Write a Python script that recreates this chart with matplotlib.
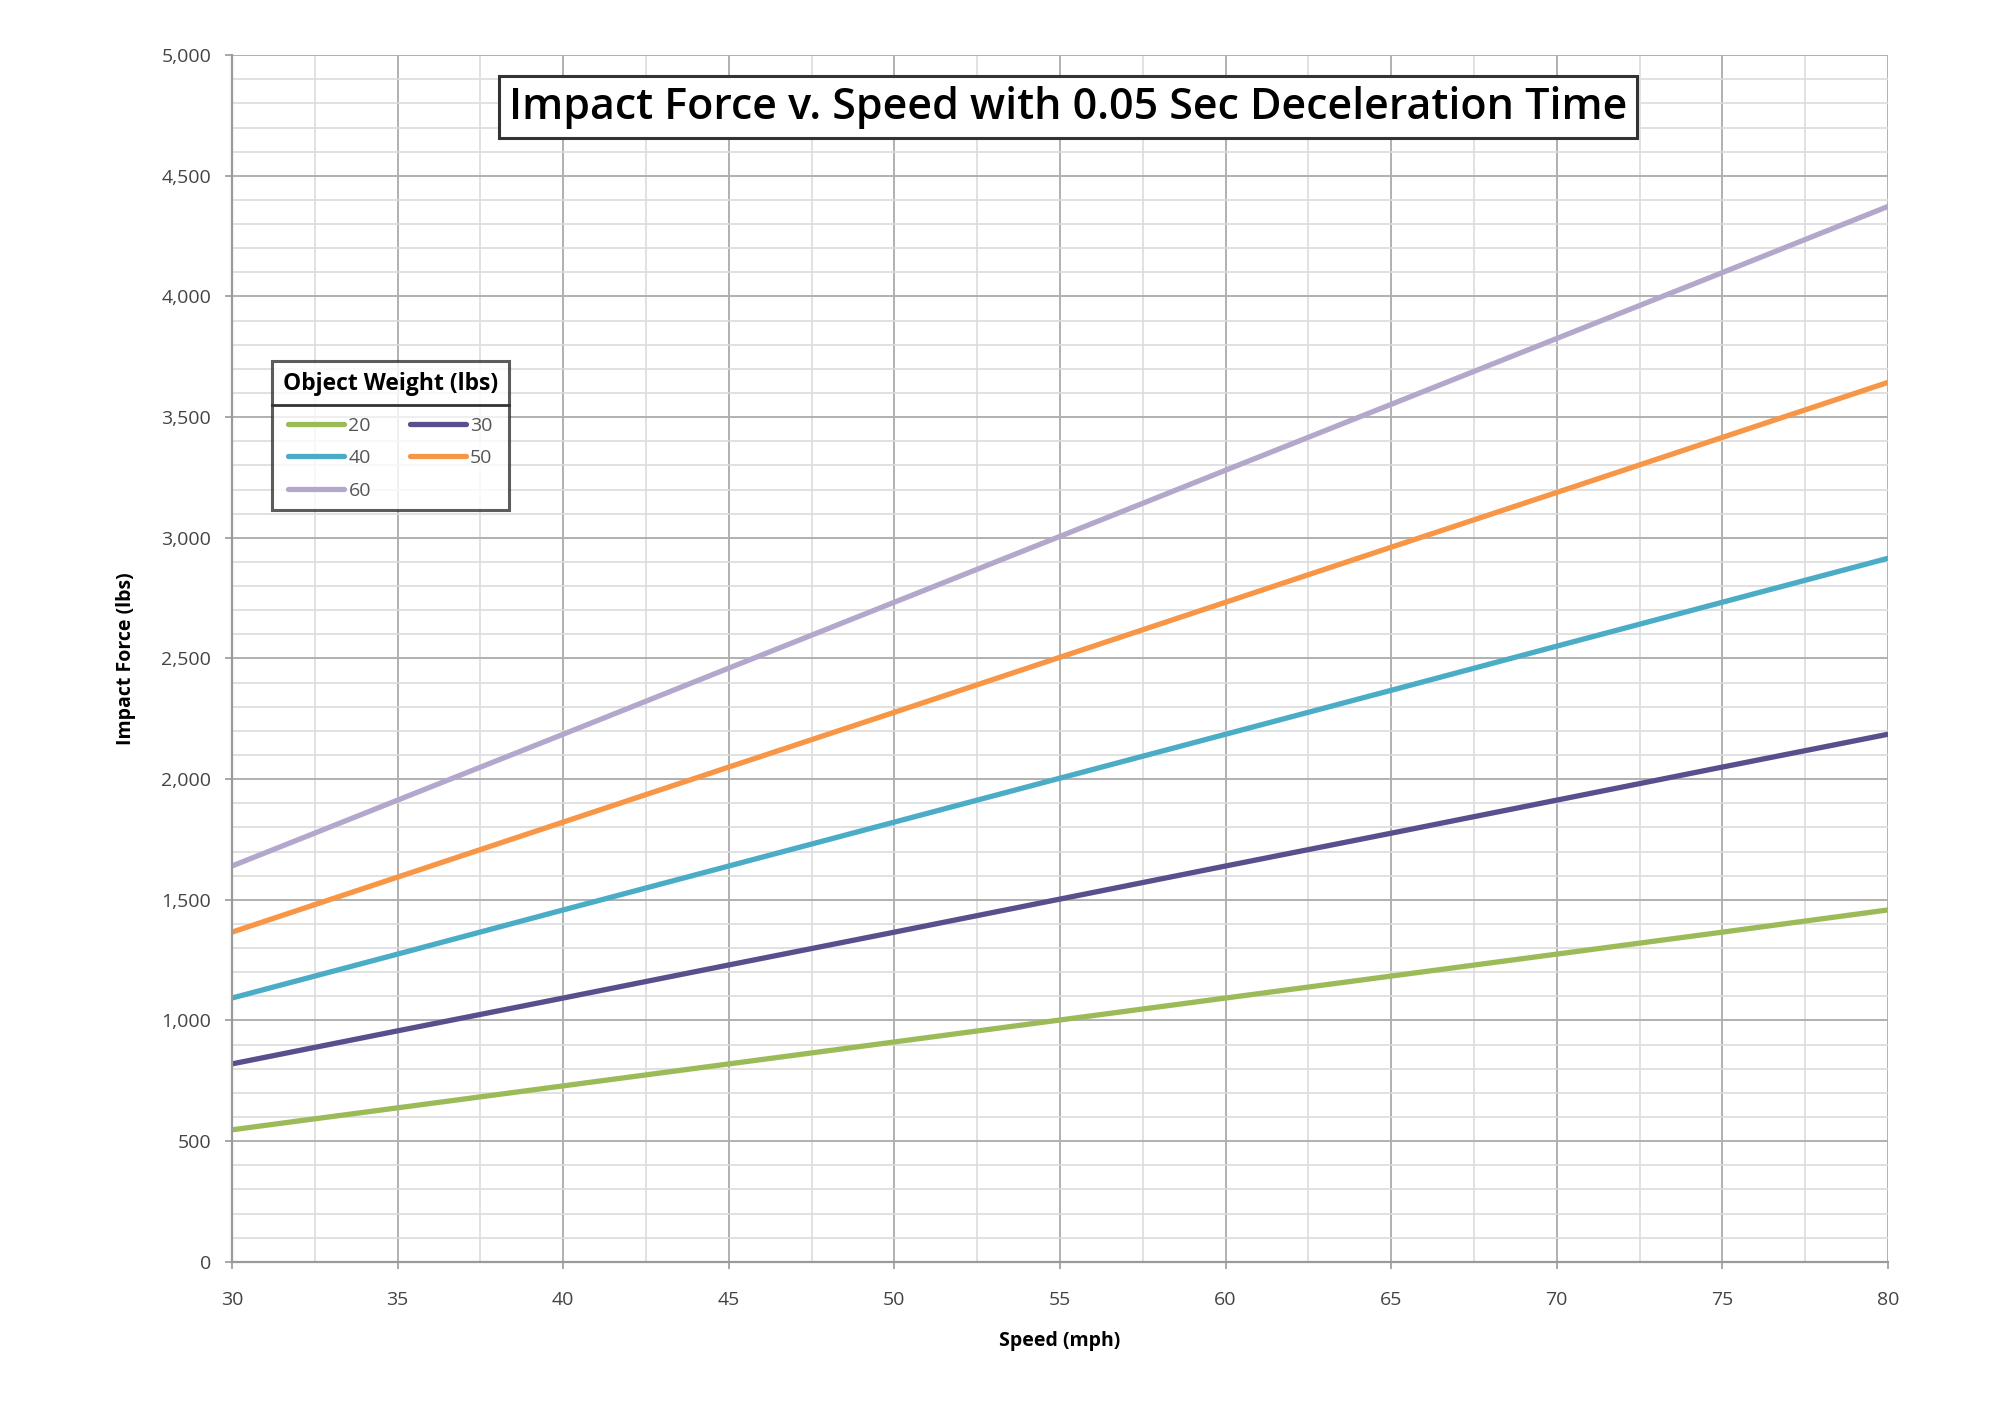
import matplotlib
matplotlib.use("Agg")
import matplotlib.pyplot as plt
from matplotlib.ticker import MultipleLocator, FuncFormatter
from matplotlib.lines import Line2D

# speed (mph) and impact force (lbs)
speed = [30, 35, 40, 45, 50, 55, 60, 65, 70, 75, 80]
force_20 = [547, 638, 729, 820, 911, 1002, 1093, 1184, 1275, 1366, 1458]
force_30 = [820, 957, 1093, 1230, 1366, 1503, 1640, 1776, 1913, 2050, 2186]
force_40 = [1093, 1275, 1458, 1640, 1822, 2004, 2186, 2368, 2551, 2733, 2915]
force_50 = [1366, 1594, 1822, 2050, 2277, 2505, 2733, 2961, 3188, 3416, 3644]
force_60 = [1640, 1913, 2186, 2460, 2733, 3006, 3280, 3553, 3826, 4099, 4373]
weights = ['20', '30', '40', '50', '60']
colors = ['#9BBB59', '#5B4E8C', '#4BACC6', '#F79646', '#B3A8CC']

plt.rcParams['font.family'] = ['Open Sans', 'DejaVu Sans']

fig = plt.figure(figsize=(20, 14.13), dpi=100)
ax = fig.add_axes([0.116, 0.107, 0.828, 0.854])

series = [force_20, force_30, force_40, force_50, force_60]
lines = []
for w, f, c in zip(weights, series, colors):
    ln, = ax.plot(speed, f, color=c, lw=3.8, label=w, solid_capstyle='round')
    lines.append(ln)

ax.set_xlim(30, 80)
ax.set_ylim(0, 5000)
ax.xaxis.set_major_locator(MultipleLocator(5))
ax.xaxis.set_minor_locator(MultipleLocator(2.5))
ax.yaxis.set_major_locator(MultipleLocator(500))
ax.yaxis.set_minor_locator(MultipleLocator(100))
ax.yaxis.set_major_formatter(FuncFormatter(lambda v, p: '{:,.0f}'.format(v)))
ax.grid(which='major', color='#B0B0B0', lw=1.4)
ax.grid(which='minor', color='#DCDCDC', lw=1.2)
ax.set_axisbelow(True)
for s in ['top', 'right']:
    ax.spines[s].set_visible(False)
for s in ['left', 'bottom']:
    ax.spines[s].set_color('#9A9A9A')
    ax.spines[s].set_linewidth(1.6)
ax.tick_params(which='major', length=5, width=1.2, color='#9A9A9A', labelsize=14,
               labelcolor='#444444')
ax.tick_params(axis='x', pad=16)
ax.tick_params(axis='y', pad=10)
ax.tick_params(which='minor', length=0)

ax.set_xlabel('Speed (mph)', fontsize=14, fontweight='bold', labelpad=16)
ax.set_ylabel('Impact Force (lbs)', fontsize=14, fontweight='bold', labelpad=18)

fig.text(0.534, 0.924, 'Impact Force v. Speed with 0.05 Sec Deceleration Time',
         ha='center', va='center', fontsize=31, fontweight='semibold',
         bbox=dict(boxstyle='square,pad=0.22', fc='white', ec='#333333', lw=2.2))

order = [0, 2, 4, 1, 3]
leg = ax.legend([lines[i] for i in order], [weights[i] for i in order],
                title='Object Weight (lbs)', ncol=2, loc='upper left',
                bbox_to_anchor=(0.136, 0.7445), bbox_transform=fig.transFigure,
                borderaxespad=0,
                fontsize=14, title_fontproperties={'weight': 'bold', 'size': 16.5},
                frameon=True, fancybox=False, edgecolor='#333333',
                handlelength=2.9, handletextpad=0.2, columnspacing=2.0,
                labelspacing=0.75, borderpad=0.55)
leg.get_frame().set_linewidth(2.2)
leg._legend_box.sep = 15
for t in leg.get_texts():
    t.set_color('#555555')

# rule under the legend title
fig.canvas.draw()
r = fig.canvas.get_renderer()
fb = leg.get_frame().get_window_extent(r)
tb = leg.get_title().get_window_extent(r)
yline = (tb.y0 - 9) / fig.bbox.height
fig.add_artist(Line2D([fb.x0 / fig.bbox.width, fb.x1 / fig.bbox.width], [yline, yline],
                      color='#333333', lw=2, transform=fig.transFigure))

fig.savefig('out.png', dpi=100)
